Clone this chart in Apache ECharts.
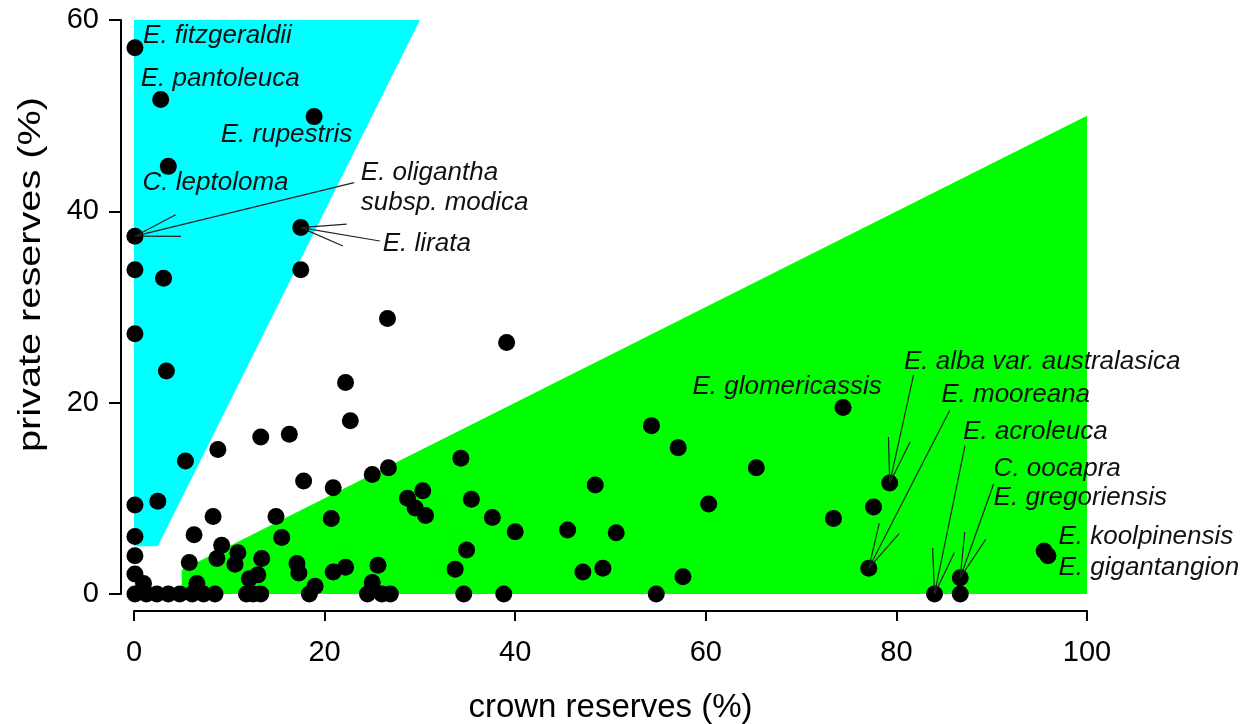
<!DOCTYPE html>
<html><head><meta charset="utf-8">
<script src="https://cdn.jsdelivr.net/npm/echarts@6/dist/echarts.min.js"></script>
<style>html,body{margin:0;padding:0;background:#fff}#c{width:1250px;height:724px}</style>
</head><body><div id="c"></div>
<script>
// ---- data ----
const crown = [0.1,2.8,18.9,3.6,0.1,17.5,0.1,3.1,17.5,0.1,3.4,26.6,39.1,22.2,22.7,13.3,16.3,8.8,5.4,17.8,
  20.9,25.0,26.7,34.3,0.1,2.5,8.3,14.9,20.7,0.1,6.3,15.5,9.2,0.1,10.9,8.7,10.6,13.4,5.8,17.1,
  17.3,0.1,13.0,12.1,20.9,22.2,1.0,6.6,19.0,18.4,25.6,25.0,24.5,26.0,26.9,28.7,30.3,29.5,30.6,35.4,
  37.6,40.0,34.9,33.7,34.6,38.8,45.5,48.4,47.1,49.2,50.6,54.3,57.1,57.6,54.8,60.3,65.3,73.4,74.4,77.6,
  79.3,77.1,84.0,86.7,86.7,95.5,95.9,0.1,1.3,2.4,3.6,4.8,6.1,7.3,8.5,11.8,12.5,13.3];
const privateRes = [57.1,51.7,49.9,44.7,37.4,38.3,33.9,33.0,33.9,27.2,23.3,28.8,26.3,22.1,18.1,16.4,16.7,15.1,13.9,11.8,
  11.1,12.5,13.2,14.2,9.3,9.7,8.1,8.1,7.9,6.0,6.2,5.9,5.1,4.0,4.3,3.7,3.1,3.7,3.3,3.2,
  2.2,2.1,2.0,1.6,2.3,2.8,1.1,1.1,0.8,0,3.0,1.2,0,0,0,10.0,10.8,9.0,8.2,9.9,
  8.0,6.5,4.6,2.6,0,0,6.7,11.4,2.3,2.7,6.4,17.6,15.3,1.8,0,9.4,13.2,7.9,19.5,9.1,
  11.6,2.7,0,1.7,0,4.5,4.0,0,0,0,0,0,0,0,0,0,0,0];
const xTicks = [0,20,40,60,80,100];
const yTicks = [0,20,40,60];
const xTitle = 'crown reserves (%)';
const yTitle = 'private reserves (%)';
const cyanRegion = [[0,5],[2.5,5],[30,60],[0,60]];
const greenRegion = [[5,0],[100,0],[100,50],[5,2.5]];
const labelNames = ['E. fitzgeraldii','E. pantoleuca','E. rupestris','C. leptoloma','E. oligantha\nsubsp. modica','E. lirata',
  'E. glomericassis','E. alba var. australasica','E. mooreana','E. acroleuca','C. oocapra','E. gregoriensis','E. koolpinensis','E. gigantangion'];
const labelX = [0.95,0.7,9.1,0.9,23.8,26.1,58.6,80.8,84.7,87.0,90.2,90.2,97.0,97.0];
const labelY = [58.3,53.9,48.0,43.0,42.5,36.6,21.7,24.3,20.8,17.0,13.1,10.1,6.0,2.7];
const arrowFromX = [23.1,25.8,81.8,85.6,87.2,90.2];
const arrowFromY = [43.0,36.9,22.9,19.2,15.5,11.5];
const arrowToX = [0.1,17.5,79.3,77.1,84.0,86.7];
const arrowToY = [37.4,38.3,11.6,2.7,0,1.7];

// ---- build ----
const FONT = '"Liberation Sans", Arial, Helvetica, sans-serif';
const points = crown.map((x,i)=>[x, privateRes[i]]);
const labels = labelNames.map((n,i)=>[labelX[i], labelY[i], n]);
const arrows = arrowFromX.map((x,i)=>[x, arrowFromY[i], arrowToX[i], arrowToY[i]]);

function regionSeries(region, color, z){
  return {
    type:'custom', z:z, silent:true, data:[[region[0][0], region[0][1]]],
    renderItem:function(params, api){
      return {type:'polygon', shape:{points: region.map(p=>api.coord(p))}, style:{fill:color}};
    }
  };
}

const chart = echarts.init(document.getElementById('c'), null, {renderer:'canvas'});
chart.setOption({
  animation:false,
  backgroundColor:'#ffffff',
  grid:{left:134, right:163, top:20, bottom:130, containLabel:false, outerBoundsMode:'none'},
  graphic:[{type:'text', left:15, top:97, rotation:Math.PI/2, scaleX:1.24, z:10,
    style:{text:yTitle, font:'32px ' + FONT, fill:'#000'}}],
  xAxis:{type:'value', min:xTicks[0], max:xTicks[xTicks.length-1], interval:20, offset:17,
    name:xTitle, nameLocation:'middle', nameGap:80,
    nameTextStyle:{fontSize:33, color:'#000', fontFamily:FONT},
    axisLine:{onZero:false, lineStyle:{color:'#000', width:2}},
    axisTick:{length:10, lineStyle:{color:'#000', width:2}},
    axisLabel:{fontSize:29, color:'#000', fontFamily:FONT, margin:27},
    splitLine:{show:false}},
  yAxis:{type:'value', min:yTicks[0], max:yTicks[yTicks.length-1], interval:20, offset:13,
    axisLine:{onZero:false, lineStyle:{color:'#000', width:2}},
    axisTick:{length:12, lineStyle:{color:'#000', width:2}},
    axisLabel:{fontSize:29, color:'#000', fontFamily:FONT, margin:22},
    splitLine:{show:false}},
  series:[
    regionSeries(cyanRegion, '#00ffff', 1),
    regionSeries(greenRegion, '#00ff00', 1),
    {type:'scatter', z:5, data:points, symbol:'circle', symbolSize:17,
      itemStyle:{color:'#000', opacity:1}, silent:true},
    {type:'custom', z:6, silent:true, data:arrows, encode:{x:[0,2], y:[1,3]},
      renderItem:function(params, api){
        const p0 = api.coord([api.value(0), api.value(1)]);
        const p1 = api.coord([api.value(2), api.value(3)]);
        const ang = Math.atan2(p0[1]-p1[1], p0[0]-p1[0]);
        const L = 46, a = 14*Math.PI/180;
        const h1 = [p1[0]+L*Math.cos(ang+a), p1[1]+L*Math.sin(ang+a)];
        const h2 = [p1[0]+L*Math.cos(ang-a), p1[1]+L*Math.sin(ang-a)];
        const st = {stroke:'#222', lineWidth:1.2, fill:null};
        return {type:'group', children:[
          {type:'line', shape:{x1:p0[0], y1:p0[1], x2:p1[0], y2:p1[1]}, style:st},
          {type:'line', shape:{x1:p1[0], y1:p1[1], x2:h1[0], y2:h1[1]}, style:st},
          {type:'line', shape:{x1:p1[0], y1:p1[1], x2:h2[0], y2:h2[1]}, style:st}
        ]};
      }},
    {type:'custom', z:7, silent:true, data:labels, encode:{x:0, y:1},
      renderItem:function(params, api){
        const p = api.coord([api.value(0), api.value(1)]);
        return {type:'text', x:p[0], y:p[1], style:{text:labels[params.dataIndex][2],
          font:'italic 26px ' + FONT, fill:'#111', align:'left', verticalAlign:'middle',
          textAlign:'left', textVerticalAlign:'middle', lineHeight:30}};
      }}
  ]
});
</script></body></html>
